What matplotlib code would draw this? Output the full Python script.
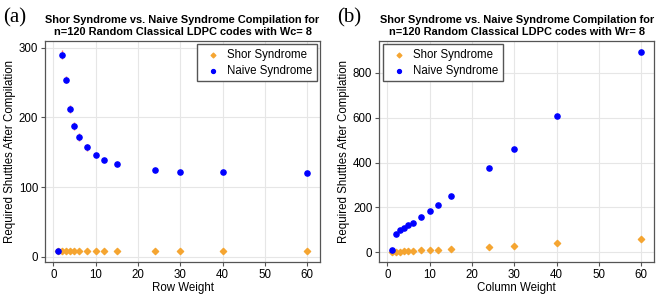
import numpy as np
import matplotlib.pyplot as plt

plt.rcParams['font.family'] = ['Liberation Sans', 'DejaVu Sans']

# data, panel (a): fixed column weight Wc = 8, varying row weight
row_w = [1, 2, 3, 4, 5, 6, 8, 10, 12, 15, 24, 30, 40, 60]
shor_a = [8, 8, 8, 8, 8, 8, 8, 8, 8, 8, 8, 8, 8, 8]
naive_a = [8, 290, 254, 212, 188, 172, 157, 146, 139, 133, 125, 122, 122, 121]
naive_a_err = [0, 6, 5, 6, 6, 6, 5, 3, 3, 2, 1, 1, 1, 1]

# panel (b): fixed row weight Wr = 8, varying column weight
col_w = [1, 2, 3, 4, 5, 6, 8, 10, 12, 15, 24, 30, 40, 60]
shor_b = [1, 2, 3, 4, 5, 6, 8, 10, 12, 15, 24, 30, 40, 60]
naive_b = [10, 83, 99, 110, 121, 132, 158, 184, 212, 251, 375, 459, 606, 895]

orange = '#f5a531'
blue = '#0000ff'

fig = plt.figure(figsize=(6.57, 2.95), dpi=100)
ax1 = fig.add_axes([0.0685, 0.113, 0.4186, 0.748])
ax2 = fig.add_axes([0.5773, 0.113, 0.4186, 0.748])


def style(ax):
    ax.grid(True, color='#e6e6e6', linewidth=0.8)
    ax.set_axisbelow(True)
    for s in ax.spines.values():
        s.set_color('#555555')
        s.set_linewidth(0.9)
    ax.tick_params(labelsize=8.3, length=3, color='#555555', pad=2)
    ax.set_xticks(range(0, 61, 10))


def add_legend(ax, loc):
    ax.legend(loc=loc, fontsize=8.3, frameon=True, fancybox=False, framealpha=1,
              edgecolor='#555555', borderpad=0.4, handletextpad=0.2, borderaxespad=0.3,
              markerscale=0.75, labelspacing=0.3)


# (a)
ax1.errorbar(row_w, naive_a, yerr=naive_a_err, fmt='none', ecolor='#ff5050',
             elinewidth=1.0, alpha=0.85, zorder=2)
ax1.scatter(row_w, shor_a, marker='D', s=10, color=orange, label='Shor Syndrome', zorder=3)
ax1.scatter(row_w, naive_a, marker='o', s=14, color=blue, label='Naive Syndrome', zorder=4)
ax1.set_xlim(-1.96, 63.0)
ax1.set_ylim(-6.7, 309.6)
ax1.set_yticks([0, 100, 200, 300])
style(ax1)
ax1.set_xlabel('Row Weight', fontsize=8.3, labelpad=1)
ax1.set_ylabel('Required Shuttles After Compilation', fontsize=8.3, labelpad=2)
ax1.set_title('Shor Syndrome vs. Naive Syndrome Compilation for\nn=120 Random Classical LDPC codes with Wc= 8',
              fontsize=7.9, fontweight='bold', pad=4, linespacing=1.3)
add_legend(ax1, 'upper right')
fig.text(0.004, 0.925, '(a)', family='Liberation Serif', fontsize=15)

# (b)
ax2.scatter(col_w, shor_b, marker='D', s=10, color=orange, label='Shor Syndrome', zorder=3)
ax2.scatter(col_w, naive_b, marker='o', s=14, color=blue, label='Naive Syndrome', zorder=4)
ax2.set_xlim(-1.89, 63.07)
ax2.set_ylim(-41.9, 942.5)
ax2.set_yticks([0, 200, 400, 600, 800])
style(ax2)
ax2.set_xlabel('Column Weight', fontsize=8.3, labelpad=1)
ax2.set_ylabel('Required Shuttles After Compilation', fontsize=8.3, labelpad=2)
ax2.set_title('Shor Syndrome vs. Naive Syndrome Compilation for\nn=120 Random Classical LDPC codes with Wr= 8',
              fontsize=7.9, fontweight='bold', pad=4, linespacing=1.3)
add_legend(ax2, 'upper left')
fig.text(0.513, 0.925, '(b)', family='Liberation Serif', fontsize=15)

fig.savefig('out.png', dpi=100)
